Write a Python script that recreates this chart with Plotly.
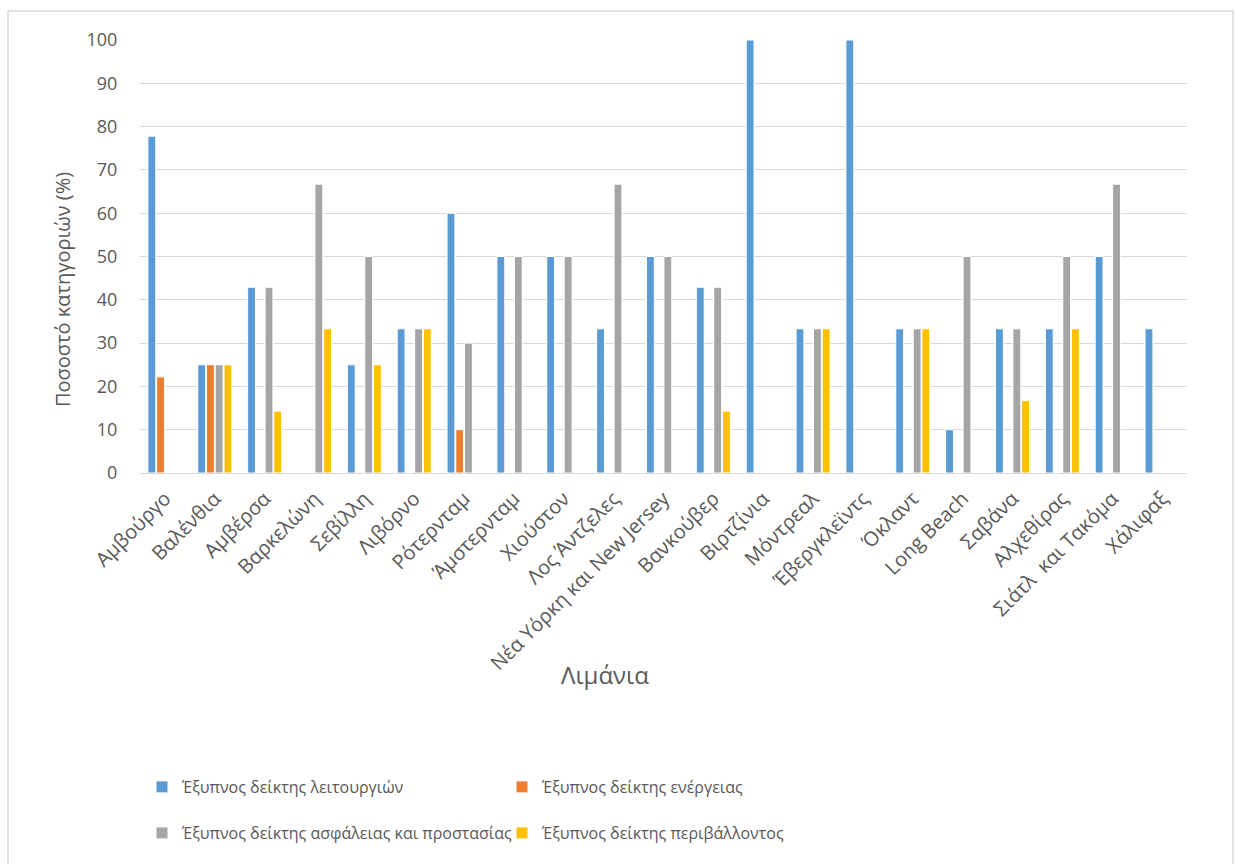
import plotly.graph_objects as go

# Ports and the four smart-index scores (% of categories)
ports = [
    "Αμβούργο", "Βαλένθια", "Αμβέρσα", "Βαρκελώνη", "Σεβίλλη", "Λιβόρνο",
    "Ρότερνταμ", "Άμστερνταμ", "Χιούστον", "Λος Άντζελες",
    "Νέα Υόρκη και New Jersey", "Βανκούβερ", "Βιρτζίνια", "Μόντρεαλ",
    "Έβεργκλεϊντς", "Όκλαντ", "Long Beach", "Σαβάνα", "Αλχεθίρας",
    "Σιάτλ  και Τακόμα", "Χάλιφαξ",
]

operations = [77.8, 25, 42.9, 0, 25, 33.3, 60, 50, 50, 33.3, 50, 42.9, 100,
              33.3, 100, 33.3, 10, 33.3, 33.3, 50, 33.3]
energy = [22.2, 25, 0, 0, 0, 0, 10, 0, 0, 0, 0, 0, 0,
          0, 0, 0, 0, 0, 0, 0, 0]
safety = [0, 25, 42.9, 66.7, 50, 33.3, 30, 50, 50, 66.7, 50, 42.9, 0,
          33.3, 0, 33.3, 50, 33.3, 50, 66.7, 0]
environment = [0, 25, 14.3, 33.3, 25, 33.3, 0, 0, 0, 0, 0, 14.3, 0,
               33.3, 0, 33.3, 0, 16.7, 33.3, 0, 0]

series_names = [
    "Έξυπνος δείκτης λειτουργιών",
    "Έξυπνος δείκτης ενέργειας",
    "Έξυπνος δείκτης ασφάλειας και προστασίας",
    "Έξυπνος δείκτης περιβάλλοντος",
]
series_values = [operations, energy, safety, environment]
series_colors = ["#5B9BD5", "#ED7D31", "#A5A5A5", "#FFC000"]
series_legends = ["legend", "legend", "legend2", "legend2"]

y_ticks = list(range(0, 101, 10))

FONT = "Open Sans"
TEXT = "#595959"
GRID = "#D9D9D9"

W, H = 1235, 864
ML, MR, MT, MB = 140, 48, 40, 391
PW, PH = W - ML - MR, H - MT - MB


def px_x(x):
    return (x - ML) / PW


def px_y(y):
    return (H - MB - y) / PH


fig = go.Figure()
for name, vals, color, lg in zip(series_names, series_values, series_colors, series_legends):
    fig.add_trace(go.Bar(
        name=name, x=ports, y=vals,
        marker=dict(color=color, line=dict(color="white", width=1)),
        legend=lg,
    ))

legend_common = dict(
    orientation="h", xanchor="left", yanchor="middle",
    font=dict(family=FONT, size=16, color=TEXT),
    entrywidth=315, entrywidthmode="pixels",
    bgcolor="rgba(0,0,0,0)",
)

fig.update_layout(
    width=W, height=H,
    margin=dict(l=ML, r=MR, t=MT, b=MB),
    paper_bgcolor="white", plot_bgcolor="white",
    barmode="group", bargap=0.3, bargroupgap=0.1,
    font=dict(family=FONT, color=TEXT, size=17),
    xaxis=dict(
        tickangle=-45, tickfont=dict(size=20, color=TEXT),
        ticks="outside", ticklen=5, tickcolor="rgba(0,0,0,0)",
        showline=False, showgrid=False, zeroline=False,
        automargin=False,
    ),
    yaxis=dict(
        range=[0, 100], tickvals=y_ticks, tickfont=dict(size=18, color=TEXT),
        showgrid=True, gridcolor=GRID, gridwidth=1,
        zeroline=True, zerolinecolor=GRID, zerolinewidth=1,
        ticks="outside", ticklen=18, tickcolor="rgba(0,0,0,0)",
        showline=False, automargin=False,
    ),
    legend=dict(x=px_x(142), y=px_y(787), **legend_common),
    legend2=dict(x=px_x(142), y=px_y(833), **legend_common),
    annotations=[
        dict(text="Ποσοστό κατηγοριών (%)", textangle=-90, showarrow=False,
             xref="paper", yref="paper", x=px_x(62), y=px_y(290),
             xanchor="center", yanchor="middle",
             font=dict(size=20, color=TEXT)),
        dict(text="Λιμάνια", showarrow=False,
             xref="paper", yref="paper", x=px_x(605), y=px_y(675),
             xanchor="center", yanchor="middle",
             font=dict(size=24, color=TEXT)),
    ],
    shapes=[
        dict(type="rect", xref="paper", yref="paper",
             x0=px_x(8), x1=px_x(1233), y0=px_y(875), y1=px_y(11),
             line=dict(color=GRID, width=1.5), fillcolor="rgba(0,0,0,0)",
             layer="below"),
    ],
)

fig.write_html("out.html")
